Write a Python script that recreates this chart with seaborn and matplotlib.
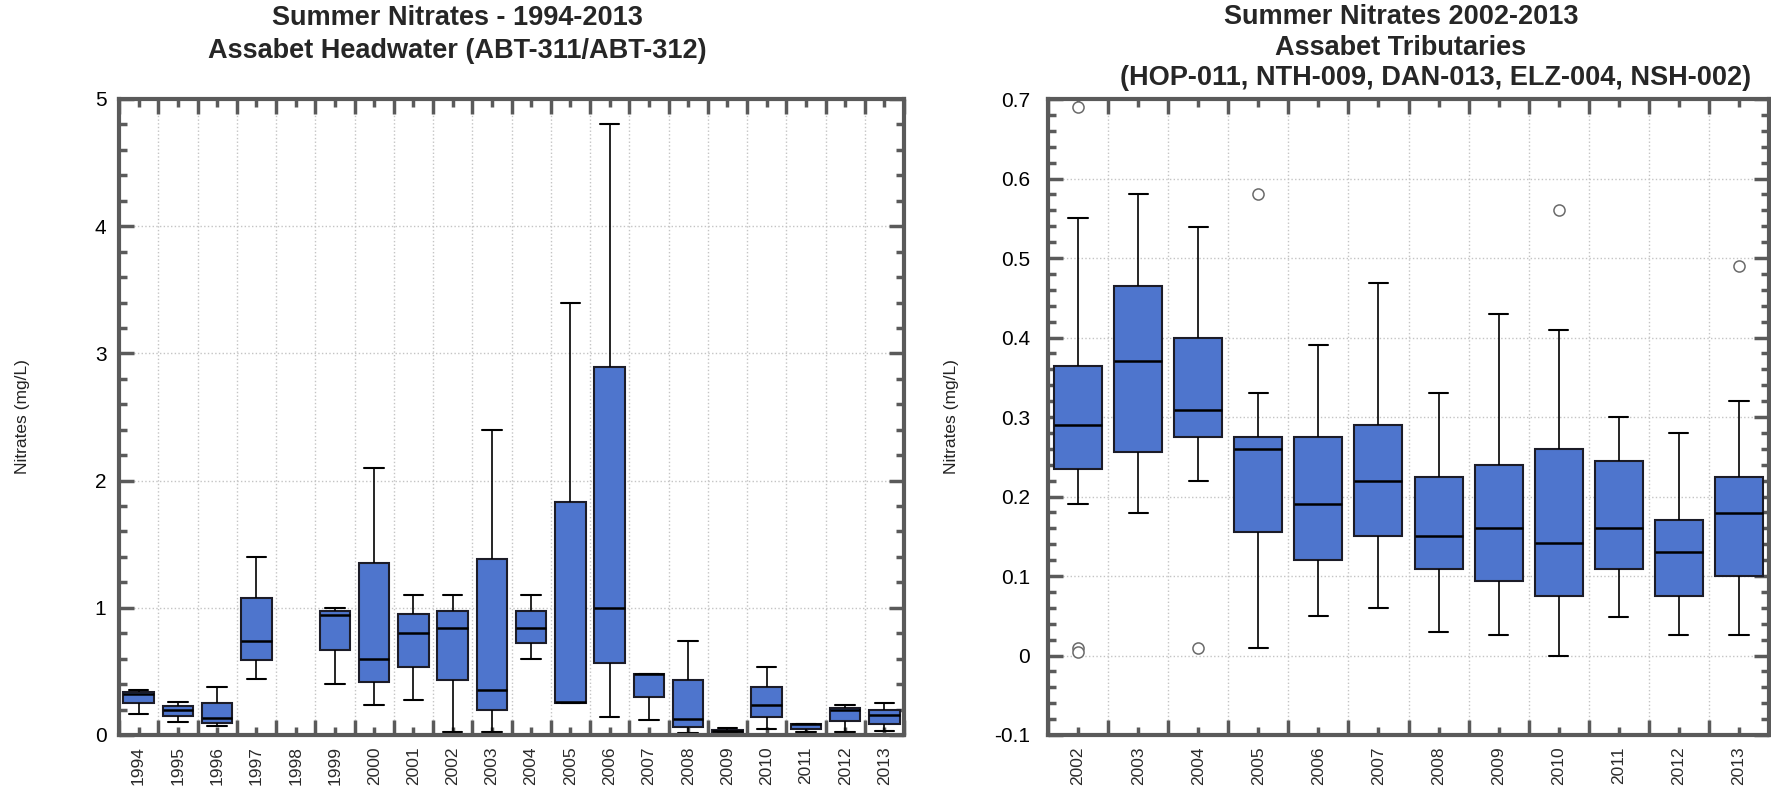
import numpy as np
import pandas as pd
import matplotlib
matplotlib.use("Agg")
import matplotlib.pyplot as plt
import seaborn as sns

# ---------------- data ----------------
left_years = [str(y) for y in range(1994, 2014)]
left_whislo = [0.167, 0.100, 0.071, 0.439, None, 0.399, 0.237, 0.276, 0.026, 0.026,
               0.595, 0.250, 0.138, 0.119, 0.013, 0.013, 0.045, 0.026, 0.026, 0.030]
left_q1 = [0.251, 0.148, 0.098, 0.587, None, 0.672, 0.416, 0.537, 0.434, 0.195,
           0.724, 0.255, 0.569, 0.296, 0.063, 0.026, 0.138, 0.050, 0.111, 0.090]
left_med = [0.323, 0.196, 0.130, 0.738, None, 0.944, 0.595, 0.800, 0.845, 0.353,
            0.845, 0.262, 1.000, 0.476, 0.122, 0.032, 0.233, 0.090, 0.193, 0.160]
left_q3 = [0.341, 0.230, 0.249, 1.074, None, 0.974, 1.356, 0.952, 0.975, 1.380,
           0.975, 1.830, 2.895, 0.476, 0.429, 0.037, 0.381, 0.090, 0.214, 0.195]
left_whishi = [0.352, 0.259, 0.381, 1.400, None, 1.000, 2.100, 1.100, 1.100, 2.400,
               1.100, 3.400, 4.805, 0.476, 0.738, 0.056, 0.532, 0.090, 0.238, 0.250]
left_yticks = [0, 1, 2, 3, 4, 5]
left_yticklabels = ["0", "1", "2", "3", "4", "5"]

right_years = [str(y) for y in range(2002, 2014)]
right_whislo = [0.190, 0.179, 0.220, 0.009, 0.050, 0.060, 0.030, 0.026, 0.000, 0.049, 0.026, 0.026]
right_q1 = [0.235, 0.256, 0.275, 0.155, 0.120, 0.150, 0.109, 0.094, 0.075, 0.109, 0.075, 0.100]
right_med = [0.290, 0.371, 0.309, 0.260, 0.190, 0.220, 0.150, 0.160, 0.141, 0.160, 0.130, 0.179]
right_q3 = [0.364, 0.465, 0.400, 0.275, 0.275, 0.290, 0.224, 0.239, 0.260, 0.245, 0.170, 0.224]
right_whishi = [0.550, 0.580, 0.539, 0.330, 0.390, 0.469, 0.330, 0.430, 0.409, 0.300, 0.280, 0.320]
right_outlier_years = ["2002", "2002", "2002", "2004", "2005", "2010", "2013"]
right_outlier_values = [0.690, 0.009, 0.004, 0.009, 0.580, 0.560, 0.490]
right_yticks = [-0.1, 0, 0.1, 0.2, 0.3, 0.4, 0.5, 0.6, 0.7]
right_yticklabels = ["-0.1", "0", "0.1", "0.2", "0.3", "0.4", "0.5", "0.6", "0.7"]

left_title = ["Summer Nitrates - 1994-2013", "Assabet Headwater (ABT-311/ABT-312)"]
right_title = ["Summer Nitrates 2002-2013", "Assabet Tributaries",
               "(HOP-011, NTH-009, DAN-013, ELZ-004, NSH-002)"]
ylabel = "Nitrates (mg/L)"


def long_form(years, *stats):
    rows = []
    for i, y in enumerate(years):
        for s in stats:
            if s[i] is not None:
                rows.append((y, s[i]))
    return pd.DataFrame(rows, columns=["year", "value"])


left_df = long_form(left_years, left_whislo, left_q1, left_med, left_q3, left_whishi)
right_df = long_form(right_years, right_whislo, right_q1, right_med, right_q3, right_whishi)
out_df = pd.DataFrame({"year": right_outlier_years, "value": right_outlier_values})

# ---------------- style ----------------
sns.set_style("white")
plt.rcParams["font.family"] = ["Liberation Sans", "DejaVu Sans"]

BOX = "#4e75cd"
EDGE = "#1c1c28"
SPINE = "#5a5a5a"
GRID = "#c4c4c4"

fig = plt.figure(figsize=(17.71, 7.91), dpi=100)
axL = fig.add_axes([119 / 1771, 56 / 791, 785 / 1771, 636 / 791])
axR = fig.add_axes([1048 / 1771, 56 / 791, 721 / 1771, 636 / 791])


def draw(ax, df, years, width, capw):
    sns.boxplot(data=df, x="year", y="value", order=years, ax=ax,
                color=BOX, saturation=1, width=width, whis=np.inf,
                showfliers=False, linecolor=EDGE, linewidth=1.5,
                capwidths=capw,
                medianprops=dict(color="black", linewidth=1.8),
                whiskerprops=dict(color="black", linewidth=1.2),
                capprops=dict(color="black", linewidth=1.5))


def style(ax, years, ylim, yticks, yticklabels, yminor, label_x, ypad):
    n = len(years)
    ax.set_xlim(-0.5, n - 0.5)
    ax.set_ylim(*ylim)
    ax.set_xticks(np.arange(n + 1) - 0.5)
    ax.set_xticklabels([])
    ax.set_xticks(np.arange(n), minor=True)
    ax.set_xticklabels(years, minor=True, rotation=90, fontsize=12.5, color="#2a2a2a")
    ax.set_yticks(yticks)
    ax.set_yticklabels(yticklabels, fontsize=15, color="black")
    ax.set_yticks(yminor, minor=True)
    ax.tick_params(which="both", direction="in", top=True, right=True,
                   bottom=True, left=True, color=SPINE, width=2.5)
    ax.tick_params(which="major", length=11)
    ax.tick_params(which="minor", length=6)
    ax.tick_params(axis="x", which="minor", pad=8)
    ax.tick_params(axis="y", which="major", pad=ypad)
    ax.grid(True, which="major", linestyle=":", color=GRID, linewidth=1.0)
    ax.set_axisbelow(True)
    for sp in ax.spines.values():
        sp.set_visible(True)
        sp.set_color(SPINE)
        sp.set_linewidth(3)
    ax.set_xlabel("")
    ax.set_ylabel(ylabel, fontsize=12.5, color="#222222")
    ax.yaxis.set_label_coords(label_x, 0.5)


draw(axL, left_df, left_years, 0.78, 0.5)
style(axL, left_years, (0, 5), left_yticks, left_yticklabels,
      np.arange(0, 5.01, 0.2), -0.113, 9)

draw(axR, right_df, right_years, 0.8, 0.32)
sns.stripplot(data=out_df, x="year", y="value", order=right_years, ax=axR,
              jitter=False, color="white", edgecolor="#6a6a6a", linewidth=1.1,
              size=8, zorder=5)
style(axR, right_years, (-0.1, 0.7), right_yticks, right_yticklabels,
      np.arange(-0.1, 0.701, 0.02), -0.123, 13)

tfont = dict(fontsize=19.5, fontweight="bold", ha="center", va="center")
fig.text(457 / 1771, 1 - 18 / 791, left_title[0], **tfont)
fig.text(457 / 1771, 1 - 51 / 791, left_title[1], **tfont)
fig.text(1401 / 1771, 1 - 17 / 791, right_title[0], **tfont)
fig.text(1401 / 1771, 1 - 48 / 791, right_title[1], **tfont)
fig.text(1436 / 1771, 1 - 78 / 791, right_title[2], **tfont)

fig.savefig("out.png", dpi=100)
